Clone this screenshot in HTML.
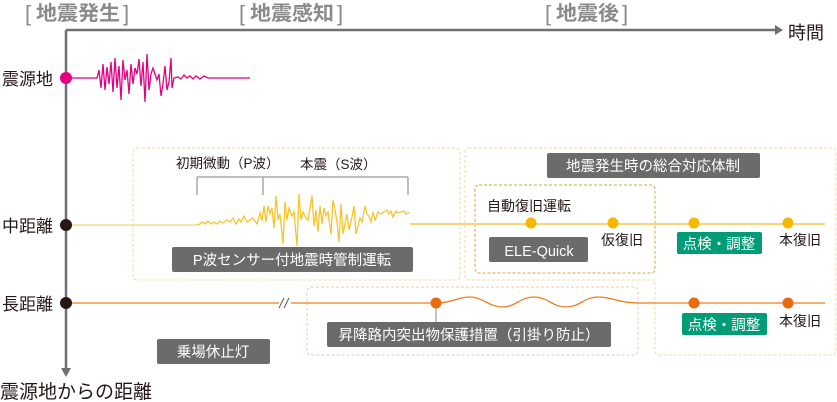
<!DOCTYPE html>
<html><head><meta charset="utf-8"><style>
html,body{margin:0;padding:0;background:#fff;}
svg{display:block;}
text{font-family:"Liberation Sans","Noto Sans CJK JP",sans-serif;}
</style></head><body>
<svg width="837" height="402" viewBox="0 0 837 402" xmlns="http://www.w3.org/2000/svg">
<!-- headers -->
<g fill="#8a8a8a" font-size="20" font-weight="bold">
<text x="36" y="20" textLength="84" lengthAdjust="spacingAndGlyphs">地震発生</text>
<text x="250" y="20" textLength="84" lengthAdjust="spacingAndGlyphs">地震感知</text>
<text x="556" y="20" textLength="63" lengthAdjust="spacingAndGlyphs">地震後</text>
</g>
<g fill="#8a8a8a" font-size="22">
<text x="25" y="21">[</text><text x="123" y="21">]</text>
<text x="239" y="21">[</text><text x="337" y="21">]</text>
<text x="545" y="21">[</text><text x="622" y="21">]</text>
</g>
<!-- axes -->
<line x1="66" y1="30" x2="776" y2="30" stroke="#707070" stroke-width="2.5"/>
<polygon points="775,25 783,30 775,35" fill="#707070"/>
<text x="788" y="39" font-size="18" fill="#231815">時間</text>
<line x1="66" y1="30" x2="66" y2="370" stroke="#707070" stroke-width="2.5"/>
<polygon points="61,368 66,377 71,368" fill="#707070"/>
<text x="0" y="398" font-size="19" fill="#231815">震源地からの距離</text>

<!-- dashed boxes -->
<rect x="133" y="148" width="327" height="132" rx="4" fill="none" stroke="#eedc9c" stroke-dasharray="3,2"/>
<path d="M469,148 H832 a4,4 0 0 1 4,4 V351 a4,4 0 0 1 -4,4 H659 a4,4 0 0 1 -4,-4 V280 H469 a4,4 0 0 1 -4,-4 V152 a4,4 0 0 1 4,-4 Z" fill="none" stroke="#eedc9c" stroke-dasharray="3,2"/>
<rect x="475" y="185" width="180" height="88" rx="4" fill="none" stroke="#d2aa3c" stroke-dasharray="3,2"/>
<rect x="307" y="287" width="331" height="68" rx="4" fill="none" stroke="#f0c8a8" stroke-dasharray="3,2"/>

<!-- epicenter -->
<text x="2" y="85" font-size="17" fill="#231815">震源地</text>
<polyline fill="none" stroke="#e4007f" stroke-width="1.3" points="66,78 97,78 99,70 101,88 103,64 105,90 107,67 109,84 111,62 113,92 115,58 117,88 119,66 121,100 123,60 125,80 127,70 129,94 131,64 133,84 135,68 137,74 139,59 141,86 143,62 145,102 147,54 149,90 151,74 153,68 155,74 157,80 159,74 161,96 163,84 165,66 167,90 169,82 171,58 172,88 174,78 178,77 181,79 184,75 187,78 190,76 193,79 196,76 200,79 204,76 208,78 250,78"/>
<circle cx="66" cy="78" r="6" fill="#e4007f"/>

<!-- middle distance -->
<text x="2" y="232" font-size="17" fill="#231815">中距離</text>
<line x1="66" y1="225" x2="197" y2="225" stroke="#f8d57a" stroke-width="1.3"/>
<line x1="410" y1="224" x2="825" y2="224" stroke="#f8d57a" stroke-width="2"/>
<polyline fill="none" stroke="#f8c42e" stroke-width="1.3" points="197,225 200,224 202,222 205,224 208,221 211,224 214,222 217,224 220,221 223,223 227,220 230,222 233,218 236,224 239,219 241,222 244,216 247,222 250,220 253,218 257,224 260,213 262,221 264,206 266,222 268,206 270,214 272,208 274,228 276,196 278,220 280,214 283,244 285,202 287,220 289,208 292,216 294,212 297,246 299,194 301,220 303,212 306,218 308,220 312,196 314,226 316,210 318,232 320,206 322,224 324,208 326,216 328,212 331,234 333,200 335,210 337,222 339,242 341,204 343,234 345,224 347,214 349,230 351,222 354,206 356,234 358,226 360,218 362,222 365,206 367,214 369,216 371,222 373,212 375,220 378,212 381,214 384,212 387,210 389,214 391,211 393,217 396,211 398,213 401,212 404,211 406,214 408,213 410,213"/>
<circle cx="66" cy="225" r="6" fill="#231815"/>
<!-- brackets -->
<g stroke="#a8a8a8" stroke-width="1.5">
<line x1="197" y1="177" x2="408" y2="177"/>
<line x1="197" y1="177" x2="197" y2="195"/>
<line x1="263" y1="177" x2="263" y2="195"/>
<line x1="408" y1="177" x2="408" y2="195"/>
</g>
<text x="176" y="168" font-size="13.5" fill="#231815">初期微動（P波）</text>
<text x="300" y="169" font-size="13.5" fill="#231815">本震（S波）</text>

<!-- gray labels -->
<g fill="#6b6b6b">
<rect x="172" y="247" width="241" height="25" rx="2"/>
<rect x="547" y="153" width="213" height="25" rx="2"/>
<rect x="489" y="237" width="99" height="25" rx="2"/>
<rect x="327" y="322" width="284" height="25" rx="2"/>
<rect x="157" y="339" width="113" height="25" rx="2"/>
</g>
<g fill="#fff" font-size="14.5" text-anchor="middle">
<text x="292" y="265">P波センサー付地震時管制運転</text>
<text x="653" y="171">地震発生時の総合対応体制</text>
<text x="539" y="256">ELE-Quick</text>
<text x="469" y="340">昇降路内突出物保護措置（引掛り防止）</text>
<text x="213" y="357">乗場休止灯</text>
</g>
<g fill="#009b77">
<rect x="677" y="232" width="85" height="22" rx="2"/>
<rect x="682" y="313" width="85" height="22" rx="2"/>
</g>
<g fill="#fff" font-size="14.5" text-anchor="middle">
<text x="719" y="249">点検・調整</text>
<text x="724" y="330">点検・調整</text>
</g>
<g fill="#231815" font-size="14">
<text x="487" y="211">自動復旧運転</text>
<text x="601" y="245">仮復旧</text>
<text x="779" y="245">本復旧</text>
<text x="779" y="326">本復旧</text>
</g>
<g fill="#f5b800">
<circle cx="531" cy="223" r="5.5"/><circle cx="613" cy="223" r="5.5"/>
<circle cx="694" cy="223" r="5.5"/><circle cx="788" cy="223" r="5.5"/>
</g>

<!-- long distance -->
<text x="2" y="310" font-size="17" fill="#231815">長距離</text>
<line x1="66" y1="303" x2="436" y2="303" stroke="#ed7d1d" stroke-width="1.3"/>
<path d="M436,303 C452,303 458,297 470,297 C482,297 490,307 502,307 C516,307 520,297 534,297 C548,297 552,307 566,307 C580,307 584,297 598,297 C612,297 618,303 640,303 L825,303" fill="none" stroke="#ed7d1d" stroke-width="1.3"/>
<rect x="279" y="297" width="12" height="12" fill="#fff"/>
<g stroke="#555" stroke-width="1"><line x1="279" y1="308" x2="284" y2="298"/><line x1="284" y1="308" x2="289" y2="298"/></g>
<line x1="436" y1="303" x2="436" y2="322" stroke="#888" stroke-width="1"/>
<circle cx="66" cy="303" r="6" fill="#231815"/>
<g fill="#ea6a0c">
<circle cx="436" cy="303" r="5.5"/><circle cx="694" cy="303" r="5.5"/><circle cx="788" cy="303" r="5.5"/>
</g>
</svg>
</body></html>
